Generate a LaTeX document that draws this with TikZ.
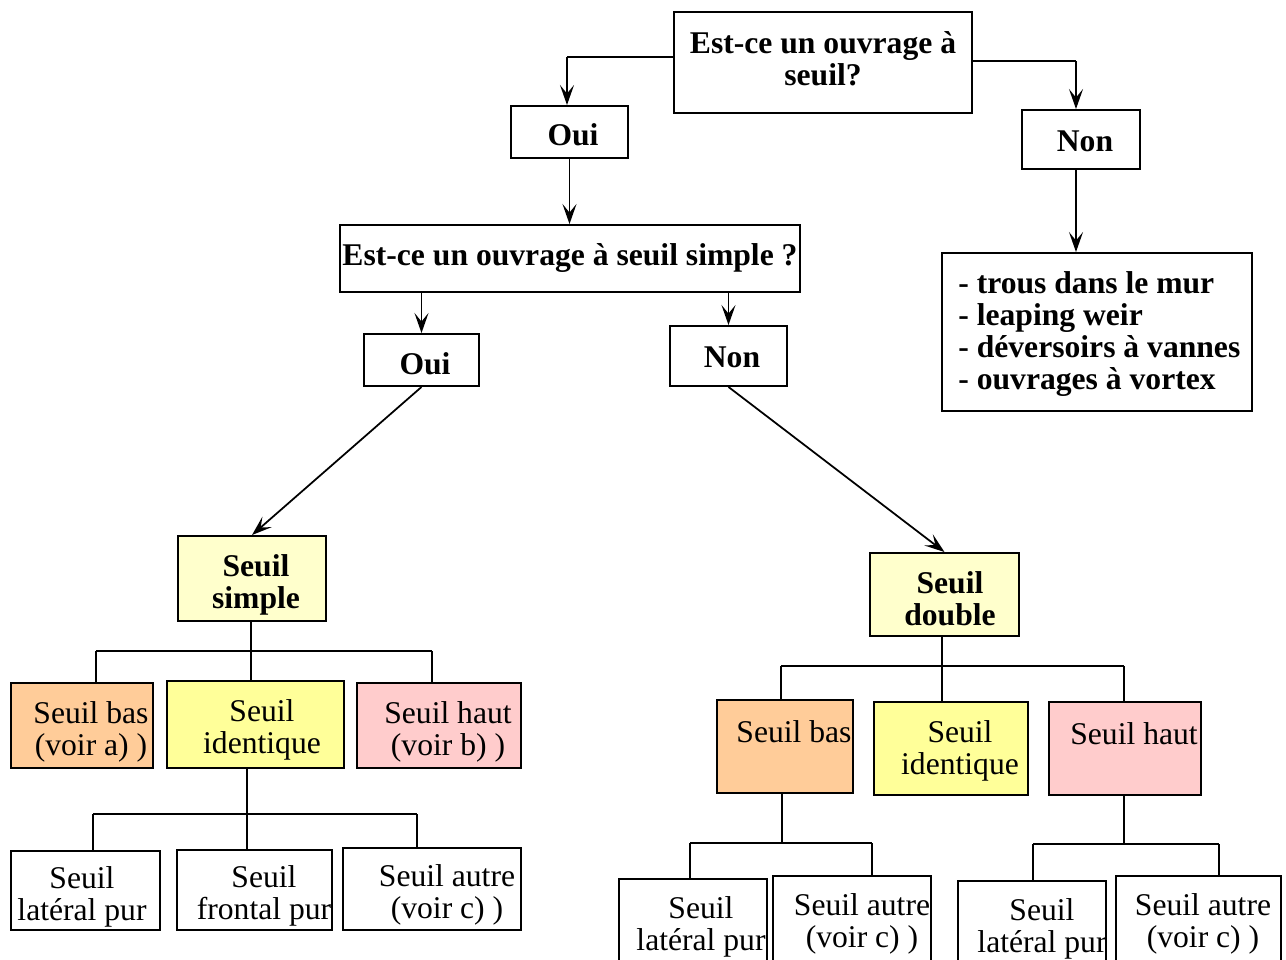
\documentclass[tikz,border=0pt]{standalone}
\usepackage{fontspec}
\setmainfont{Liberation Serif}
\usetikzlibrary{arrows.meta,fit,calc}
\definecolor{orangebox}{HTML}{FFCC99}
\definecolor{yellowbox}{HTML}{FFFF99}
\definecolor{pinkbox}{HTML}{FFCCCC}
\definecolor{paleyellow}{HTML}{FFFFCC}
\begin{document}
\begin{tikzpicture}[x=0.02cm,y=-0.02cm,
  box/.style={draw=black,line width=1.1pt,inner sep=0pt},
  txt/.style={align=center,inner sep=0pt,font=\fontsize{18}{18.2}\selectfont},
  btxt/.style={txt,font=\fontsize{18}{18.2}\selectfont\bfseries},
  link/.style={line width=1pt},
  arr/.style={link,-{Stealth[length=4mm,width=2.8mm,inset=1.7mm]}}]
\useasboundingbox (0,0) rectangle (1286,960);
\clip (0,0) rectangle (1286,960);
\fill[white] (0,0) rectangle (1286,960);

% question boxes and answers
\node[box,fit={(674,12) (972,113)}] (q1) {};
\node[btxt] at (823,59) {Est-ce un ouvrage à\\seuil?};
\node[box,fit={(511,106) (628,158)}] (oui1) {};
\node[btxt] at (573,135) {Oui};
\node[box,fit={(1022,110) (1140,169)}] (non1) {};
\node[btxt] at (1085,141) {Non};
\node[box,fit={(340,225) (800,292)}] (q2) {};
\node[btxt] at (570,258) {Est-ce un ouvrage à seuil simple ?};
\node[box,fit={(942,253) (1252,411)}] (list) {};
\node[btxt,align=left,anchor=west] at (958,334) {- trous dans le mur\\- leaping weir\\- déversoirs à vannes\\- ouvrages à vortex};
\node[box,fit={(364,334) (479,386)}] (oui2) {};
\node[btxt] at (425,364) {Oui};
\node[box,fit={(670,326) (787,386)}] (non2) {};
\node[btxt] at (732,357) {Non};

% seuil simple / double
\node[box,fill=paleyellow,fit={(178,536) (326,621)}] (simple) {};
\node[btxt] at (256,585) {Seuil\\simple};
\node[box,fill=paleyellow,fit={(870,553) (1019,636)}] (double) {};
\node[btxt] at (950,599) {Seuil\\double};

% left branch, second level
\node[box,fill=orangebox,fit={(11,683) (153,768)}] (bas1) {};
\node[txt] at (91,732) {Seuil bas\\(voir a) )};
\node[box,fill=yellowbox,fit={(167,681) (344,768)}] (ident1) {};
\node[txt] at (262,730) {Seuil\\identique};
\node[box,fill=pinkbox,fit={(357,683) (521,768)}] (haut1) {};
\node[txt] at (448,732) {Seuil haut\\(voir b) )};

% left branch, third level
\node[box,fit={(11,851) (160,930)}] (lat1) {};
\node[txt] at (82,897) {Seuil\\latéral pur};
\node[box,fit={(177,850) (332,930)}] (front1) {};
\node[txt] at (264,896) {Seuil\\frontal pur};
\node[box,fit={(343,848) (521,930)}] (aut1) {};
\node[txt] at (447,895) {Seuil autre\\(voir c) )};

% right branch, second level
\node[box,fill=orangebox,fit={(717,700) (853,793)}] (bas2) {};
\node[txt] at (794,732) {Seuil bas};
\node[box,fill=yellowbox,fit={(874,702) (1028,795)}] (ident2) {};
\node[txt] at (960,751) {Seuil\\identique};
\node[box,fill=pinkbox,fit={(1049,702) (1201,795)}] (haut2) {};
\node[txt] at (1134,734) {Seuil haut};

% right branch, third level
\node[box,fit={(619,879) (767,990)}] (lat2) {};
\node[txt] at (701,927) {Seuil\\latéral pur};
\node[box,fit={(773,876) (931,990)}] (aut2) {};
\node[txt] at (862,924) {Seuil autre\\(voir c) )};
\node[box,fit={(958,881) (1106,990)}] (lat3) {};
\node[txt] at (1042,929) {Seuil\\latéral pur};
\node[box,fit={(1116,876) (1281,990)}] (aut3) {};
\node[txt] at (1203,924) {Seuil autre\\(voir c) )};

% arrows between questions and answers
\coordinate (q1l) at (567,57);
\coordinate (q1r) at (1076,61);
\draw[link] (q1l -| q1.west) -- (q1l);
\draw[arr] (q1l) -- (q1l |- oui1.north);
\draw[link] (q1r -| q1.east) -- (q1r);
\draw[arr] (q1r) -- (q1r |- non1.north);
\draw[arr] (oui1.south) -- (oui1.south |- q2.north);
\draw[arr] (q1r |- non1.south) -- (q1r |- list.north);
\draw[arr] (oui2.north |- q2.south) -- (oui2.north);
\draw[arr] (non2.north |- q2.south) -- (non2.north);
\draw[arr] (oui2.south) -- (simple.north);
\draw[arr] (non2.south) -- (double.north);

% tree under seuil simple
\coordinate (s1l) at (96,651);
\coordinate (s1r) at (432,651);
\draw[link] (s1l) -- (s1r);
\draw[link] (s1l) -- (s1l |- bas1.north);
\draw[link] (s1r) -- (s1r |- haut1.north);
\draw[link] (251,0 |- simple.south) -- (251,0 |- ident1.north);
\coordinate (i1l) at (93,814);
\coordinate (i1r) at (417,814);
\draw[link] (i1l) -- (i1r);
\draw[link] (247,0 |- ident1.south) -- (247,0 |- front1.north);
\draw[link] (i1l) -- (i1l |- lat1.north);
\draw[link] (i1r) -- (i1r |- aut1.north);

% tree under seuil double
\coordinate (d1l) at (781,666);
\coordinate (d1r) at (1124,666);
\draw[link] (d1l) -- (d1r);
\draw[link] (942,0 |- double.south) -- (942,0 |- ident2.north);
\draw[link] (d1l) -- (d1l |- bas2.north);
\draw[link] (d1r) -- (d1r |- haut2.north);
\coordinate (b2l) at (690,843);
\coordinate (b2r) at (872,843);
\draw[link] (782,0 |- bas2.south) -- (782,843);
\draw[link] (b2l) -- (b2r);
\draw[link] (b2l) -- (b2l |- lat2.north);
\draw[link] (b2r) -- (b2r |- aut2.north);
\coordinate (h2l) at (1033,844);
\coordinate (h2r) at (1219,844);
\draw[link] (1124,0 |- haut2.south) -- (1124,844);
\draw[link] (h2l) -- (h2r);
\draw[link] (h2l) -- (h2l |- lat3.north);
\draw[link] (h2r) -- (h2r |- aut3.north);
\end{tikzpicture}
\end{document}
